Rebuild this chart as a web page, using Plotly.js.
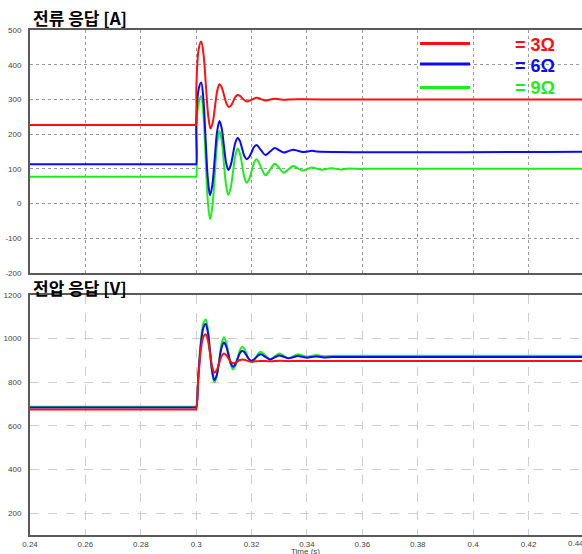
<!DOCTYPE html>
<html>
<head>
<meta charset="utf-8">
<script src="https://cdn.plot.ly/plotly-3.0.1.min.js"></script>
<style>
html,body{margin:0;padding:0;overflow:hidden;background:#fff;}
#chart{width:600px;height:554px;}
</style>
</head>
<body>
<div id="chart"></div>
<script>
// ---------- Current response [A] ----------
const iTime3 = [0.24, 0.2998, 0.3, 0.30005, 0.3009, 0.3018, 0.30265, 0.3035, 0.30435, 0.3052, 0.3060, 0.3068, 0.3076, 0.3084, 0.30925, 0.3101, 0.31095, 0.3118, 0.3126, 0.3134, 0.3142, 0.3150, 0.31585, 0.3167, 0.31755, 0.3184, 0.3201, 0.3218, 0.3234, 0.3250, 0.3267, 0.3284, 0.3300, 0.3316, 0.3333, 0.345, 0.45];
const iVal3 = [226, 226, 226, 330, 445, 467, 430, 341, 253, 216, 235, 280, 325, 344, 334, 311, 288, 278, 283, 295, 308, 313, 310, 303, 297, 294, 299.5, 305, 301, 297, 299.5, 302, 300.5, 299, 300, 300, 300];

const iTime6 = [0.24, 0.2998, 0.3, 0.30005, 0.3009, 0.3018, 0.3026, 0.3034, 0.3042, 0.3050, 0.30585, 0.3067, 0.30755, 0.3084, 0.3092, 0.3100, 0.3108, 0.3116, 0.31245, 0.3133, 0.31415, 0.3150, 0.3158, 0.3166, 0.3174, 0.3182, 0.3191, 0.3200, 0.3209, 0.3218, 0.3234, 0.3250, 0.3267, 0.3284, 0.3300, 0.3316, 0.3333, 0.3350, 0.3367, 0.3384, 0.3401, 0.3418, 0.3435, 0.45];
const iVal6 = [113, 113, 113, 250, 330, 349, 301, 186, 72, 24, 55, 131, 207, 238, 217, 167, 118, 97, 110, 143, 176, 189, 180, 158, 137, 128, 134, 148, 163, 169, 154, 140, 150, 160, 153, 147, 151, 155, 152, 148.5, 150, 152, 150, 150];

const iTime9 = [0.24, 0.2998, 0.3, 0.30005, 0.3009, 0.3018, 0.3026, 0.3034, 0.3042, 0.3050, 0.30585, 0.3067, 0.30755, 0.3084, 0.3092, 0.3100, 0.3108, 0.3116, 0.31245, 0.3133, 0.31415, 0.3150, 0.3158, 0.3166, 0.3174, 0.3182, 0.3191, 0.3200, 0.3209, 0.3218, 0.3234, 0.3250, 0.3267, 0.3284, 0.3300, 0.3316, 0.3333, 0.3350, 0.3367, 0.3384, 0.3401, 0.3418, 0.3435, 0.3452, 0.3469, 0.3486, 0.3503, 0.3520, 0.3537, 0.3554, 0.3571, 0.3588, 0.3605, 0.45];
const iVal9 = [77, 77, 77, 220, 290, 310, 258, 132, 7, -45, -8, 82, 172, 209, 182, 117, 52, 25, 45, 92, 139, 159, 144, 110, 75, 60, 70, 94, 118, 128, 105, 81.5, 98, 115, 102, 89, 98.5, 108, 101.5, 95, 99.5, 104, 100.7, 97.5, 99.7, 102, 100.2, 98.5, 99.7, 101, 100.2, 99.5, 100, 100];

// ---------- Voltage response [V] ----------
const vTime = [0.24, 0.2998, 0.3, 0.3008, 0.3017, 0.3026, 0.3034, 0.3042, 0.3050, 0.3058, 0.3066, 0.30745, 0.3083, 0.30915, 0.3100, 0.3108, 0.31165, 0.3125, 0.3133, 0.3141, 0.31495, 0.3158, 0.3166, 0.3174, 0.31825, 0.3191, 0.3199, 0.3207, 0.3216, 0.3225, 0.3233, 0.3250, 0.3267, 0.32835, 0.3300, 0.33165, 0.3333, 0.3350, 0.3367, 0.33835, 0.3400, 0.34165, 0.3433, 0.3450, 0.3467, 0.34835, 0.3500, 0.3550, 0.45];
const vVal3 = [675, 675, 675, 820, 950, 1008, 1020, 994, 932, 870, 844, 857, 888, 919, 932, 925, 909.5, 894, 887, 890, 896, 902, 905, 903, 899.5, 896, 894, 895, 896, 897, 898, 897, 896, 897.5, 899, 898, 897, 897.5, 898, 898, 898, 898, 898, 898, 898, 898, 898, 898, 898];
const vVal6 = [684, 684, 684, 835, 975, 1050, 1067, 1030, 938, 848, 810, 835, 896, 957, 982, 966, 926, 887, 871, 882, 908, 934, 945, 938, 922, 906, 899, 903, 913, 924, 928, 916.5, 905, 914, 923, 916.5, 910, 915, 920, 916.5, 913, 915.5, 918, 916, 914, 915, 916, 916, 916];
const vVal9 = [688, 688, 688, 840, 990, 1070, 1088, 1046, 944, 842, 800, 830, 903, 976, 1006, 984, 932, 880, 859, 874, 911, 948, 963, 953, 928, 903, 893, 900, 916, 933, 940, 922, 905, 918, 932, 921, 910, 919, 928, 923, 918, 921, 925, 922, 919, 921, 922, 922, 922];

// ---------- Labels / ticks ----------
const seriesNames = ['= 3Ω', '= 6Ω', '= 9Ω'];
const seriesColors = ['#ff1010', '#0a0aff', '#18f018'];
const xTickVals = [0.24, 0.26, 0.28, 0.3, 0.32, 0.34, 0.36, 0.38, 0.4, 0.42, 0.44];
const xTickText = ['0.24', '0.26', '0.28', '0.3', '0.32', '0.34', '0.36', '0.38', '0.4', '0.42', '0.44'];
const iTickVals = [-200, -100, 0, 100, 200, 300, 400, 500];
const iTickText = ['-200', '-100', '0', '100', '200', '300', '400', '500'];
const vTickVals = [200, 400, 600, 800, 1000, 1200];
const vTickText = ['200', '400', '600', '800', '1000', '1200'];
const topTitle = '전류 응답 [A]';
const bottomTitle = '전압 응답 [V]';
const xTitle = 'Time (s)';

const currentT = [iTime3, iTime6, iTime9];
const currentV = [iVal3, iVal6, iVal9];
const voltageV = [vVal3, vVal6, vVal9];

const traces = [];
// draw green, blue, red so red sits on top
for (let k = 2; k >= 0; k--) {
  traces.push({
    x: currentT[k], y: currentV[k], xaxis: 'x', yaxis: 'y',
    type: 'scatter', mode: 'lines', name: seriesNames[k], showlegend: false,
    line: {color: seriesColors[k], width: 2, shape: 'spline', smoothing: 1}
  });
}
for (let k = 2; k >= 0; k--) {
  traces.push({
    x: vTime, y: voltageV[k], xaxis: 'x2', yaxis: 'y2',
    type: 'scatter', mode: 'lines', name: seriesNames[k], showlegend: false,
    line: {color: seriesColors[k], width: 2, shape: 'spline', smoothing: 1}
  });
}

const frame = {showline: true, mirror: true, linecolor: '#5a5a5a', linewidth: 2, zeroline: false};
const tickFont = {family: 'Liberation Sans, Arial, sans-serif', size: 8, color: '#444'};

// the last x label is pulled inside the window (as in the source image)
const lastIdx = xTickVals.length - 1;
const xTickShown = xTickText.map((t, i) => i === lastIdx ? '' : t);

const layout = {
  width: 600, height: 554,
  margin: {l: 30, r: 8, t: 30, b: 19},
  paper_bgcolor: '#fff', plot_bgcolor: '#fff',
  font: {family: 'Liberation Sans, Arial, sans-serif'},
  showlegend: false,
  xaxis: Object.assign({}, frame, {
    anchor: 'y', domain: [0, 1], range: [0.24, 0.4429],
    tickvals: xTickVals, ticktext: xTickText, showticklabels: false, ticks: '',
    showgrid: true, gridcolor: '#9a9a9a', griddash: 'dot', gridwidth: 1
  }),
  yaxis: Object.assign({}, frame, {
    anchor: 'x', domain: [0.5188, 1], range: [-200, 500],
    tickvals: iTickVals, ticktext: iTickText, tickfont: tickFont,
    ticks: 'outside', ticklen: 5, tickcolor: 'rgba(0,0,0,0)',
    showgrid: true, gridcolor: '#9a9a9a', griddash: 'dot', gridwidth: 1
  }),
  xaxis2: Object.assign({}, frame, {
    anchor: 'y2', domain: [0, 1], range: [0.24, 0.4429], matches: 'x',
    tickvals: xTickVals, ticktext: xTickShown, tickfont: tickFont,
    ticks: '',
    showgrid: true, gridcolor: '#cfcfcf', griddash: 'dash', gridwidth: 1
  }),
  yaxis2: Object.assign({}, frame, {
    anchor: 'x2', domain: [0, 0.4752], range: [100, 1200],
    tickvals: vTickVals, ticktext: vTickText, tickfont: tickFont,
    ticks: 'outside', ticklen: 5, tickcolor: 'rgba(0,0,0,0)',
    showgrid: true, gridcolor: '#cfcfcf', griddash: 'dash', gridwidth: 1
  }),
  annotations: [],
  shapes: []
};

const titleFont = {family: 'Noto Sans CJK KR, sans-serif', size: 17, color: '#000'};
layout.annotations.push({text: '<b>' + topTitle + '</b>', xref: 'paper', yref: 'paper', x: 0, y: 1.0257,
  xanchor: 'left', yanchor: 'middle', xshift: 1, showarrow: false, font: titleFont});
layout.annotations.push({text: '<b>' + bottomTitle + '</b>', xref: 'paper', yref: 'paper', x: 0, y: 0.4901,
  xanchor: 'left', yanchor: 'middle', xshift: 1, showarrow: false, font: titleFont});
layout.annotations.push({text: xTitle, xref: 'paper', yref: 'paper', x: 0.491, y: -0.0317,
  xanchor: 'center', yanchor: 'middle', showarrow: false,
  font: {family: 'Liberation Sans, Arial, sans-serif', size: 8, color: '#444'}});
layout.annotations.push({text: xTickText[lastIdx], xref: 'paper', yref: 'paper', x: 0.9715, y: -0.0178,
  xanchor: 'center', yanchor: 'middle', showarrow: false, font: tickFont});

// legend drawn as key lines + coloured labels
const legLineY = [0.9733, 0.9327, 0.8861];
const legTextY = [0.9703, 0.9287, 0.8851];
for (let k = 0; k < 3; k++) {
  layout.shapes.push({type: 'line', xref: 'paper', yref: 'paper', x0: 0.694, x1: 0.783,
    y0: legLineY[k], y1: legLineY[k], line: {color: seriesColors[k], width: 3}});
  layout.annotations.push({text: '<b>' + seriesNames[k] + '</b>', xref: 'paper', yref: 'paper', x: 0.9377, y: legTextY[k],
    xanchor: 'right', yanchor: 'middle', showarrow: false,
    font: {family: 'Liberation Sans, Arial, sans-serif', size: 18, color: seriesColors[k]}});
}

Plotly.newPlot('chart', traces, layout, {staticPlot: true, displayModeBar: false});
</script>
</body>
</html>
